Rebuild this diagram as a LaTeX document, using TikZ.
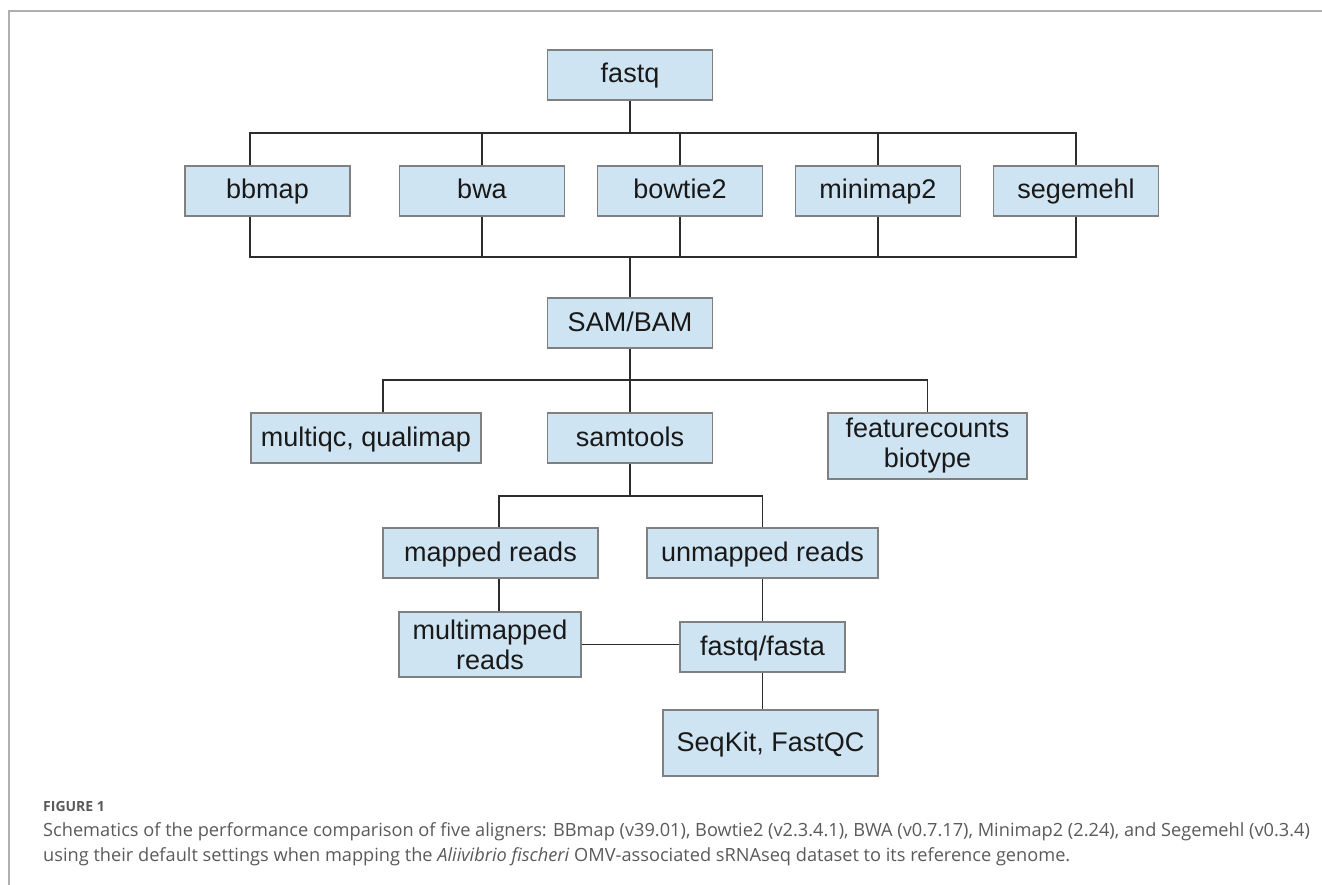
\documentclass[tikz,border=0pt]{standalone}
\usepackage{fontspec}
\setmainfont{Liberation Sans}
\newfontfamily\capfont{Open Sans}
\definecolor{boxblue}{RGB}{207,228,242}
\definecolor{boxedge}{RGB}{128,128,128}
\definecolor{linkgray}{RGB}{45,45,45}
\definecolor{capgray}{RGB}{90,90,90}
\definecolor{framegray}{RGB}{175,175,175}
\begin{document}
\begin{tikzpicture}[x=1pt,y=-1pt,
    box/.style={draw=boxedge, line width=1.2pt, fill=boxblue, minimum width=165pt,
      minimum height=50pt, inner sep=0pt, align=center, text=black!90,
      text height=20pt, text depth=4pt, font=\fontsize{27}{30}\selectfont},
    twoline/.style={box, text height=, text depth=, minimum height=66pt},
    link/.style={draw=linkgray, line width=1.8pt},
    caption/.style={anchor=west, inner sep=0pt, text=capgray}]
    \useasboundingbox (0,0) rectangle (1322,885);
    \draw[framegray, line width=1.2pt] (9,885) -- (9,11) -- (1322,11);   % page frame

    % input and aligners
    \node[box] (fastq) at (630,75) {fastq};
    \node[box] (bbmap) at (267.5,191) {bbmap};
    \node[box] (bwa) at (482,191) {bwa};
    \node[box] (bowtie) at (680,191) {bowtie2};
    \node[box] (minimap) at (878,191) {minimap2};
    \node[box] (segemehl) at (1076,191) {segemehl};

    \coordinate (splitA) at (630,133);
    \coordinate (joinA) at (630,257);
    \draw[link] (fastq) -- (splitA);
    \draw[link] ([xshift=-17.5pt]bbmap.north) |- (splitA) -| (segemehl.north);
    \draw[link] (bwa.north) -- (bwa.north |- splitA);
    \draw[link] (bowtie.north) -- (bowtie.north |- splitA);
    \draw[link] (minimap.north) -- (minimap.north |- splitA);
    \draw[link] ([xshift=-17.5pt]bbmap.south) |- (joinA) -| (segemehl.south);
    \draw[link] (bwa.south) -- (bwa.south |- joinA);
    \draw[link] (bowtie.south) -- (bowtie.south |- joinA);
    \draw[link] (minimap.south) -- (minimap.south |- joinA);

    % alignments
    \node[box] (sambam) at (630,323) {SAM/BAM};
    \draw[link] (joinA) -- (sambam);

    \node[box, minimum width=230pt] (multiqc) at (366,438) {multiqc, qualimap};
    \node[box] (samtools) at (630,438) {samtools};
    \node[twoline, minimum width=199pt] (featcount) at (927.5,446) {featurecounts\\biotype};

    \coordinate (splitB) at (630,380);
    \draw[link] (sambam) -- (splitB);
    \draw[link] ([xshift=17pt]multiqc.north) |- (splitB) -| (featcount.north);
    \draw[link] (splitB) -- (samtools);

    % reads
    \node[box, minimum width=215pt] (mapped) at (490.5,553) {mapped reads};
    \node[box, minimum width=231pt] (unmapped) at (762.5,553) {unmapped reads};
    \node[twoline, minimum width=182pt, minimum height=65pt] (multimapped) at (490,644.5) {multimapped\\reads};
    \node[box] (fastqfasta) at (762.5,647) {fastq/fasta};
    \node[box, minimum width=215pt, minimum height=66pt] (seqkit) at (770.5,743) {SeqKit, FastQC};

    \coordinate (splitC) at (630,496);
    \draw[link] (samtools) -- (splitC);
    \draw[link] ([xshift=8.5pt]mapped.north) |- (splitC) -| (unmapped.north);
    \draw[link] ([xshift=8.5pt]mapped.south) -- ([xshift=8.5pt]mapped.south |- multimapped.north);
    \draw[link] (unmapped) -- (fastqfasta);
    \draw[link] (multimapped.east) -- (multimapped.east -| fastqfasta.west);
    \draw[link] (fastqfasta.south) -- (fastqfasta.south |- seqkit.north);

    % caption
    \node[caption, font=\capfont\bfseries\fontsize{14}{16}\selectfont] (figlabel) at (43,806) {FIGURE 1};
    \node[caption, font=\capfont\fontsize{18.2}{21}\selectfont] (capfirst) at (43,832)
      {Schematics of the performance comparison of five aligners: BBmap (v39.01), Bowtie2 (v2.3.4.1), BWA (v0.7.17), Minimap2 (2.24), and Segemehl (v0.3.4)};
    \node[caption, font=\capfont\fontsize{18.2}{21}\selectfont] (capsecond) at (43,857)
      {using their default settings when mapping the \textit{Aliivibrio fischeri} OMV-associated sRNAseq dataset to its reference genome.};
\end{tikzpicture}
\end{document}
